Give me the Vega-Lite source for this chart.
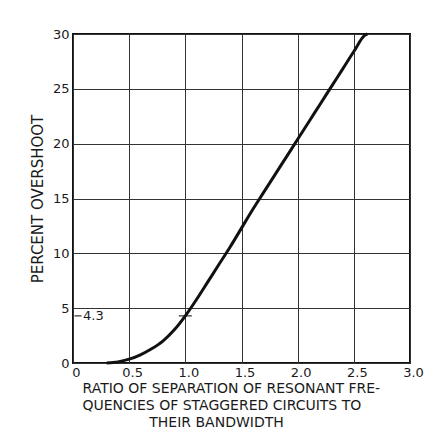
{
  "$schema": "https://vega.github.io/schema/vega-lite/v6.json",
  "width": 337,
  "height": 329,
  "autosize": {"type": "none"},
  "padding": {"left": 73, "top": 34, "right": 16, "bottom": 69},
  "background": "white",
  "config": {
    "font": "DejaVu Sans",
    "view": {"stroke": "#111", "strokeWidth": 2},
    "axis": {
      "grid": true,
      "gridColor": "#333",
      "gridOpacity": 1,
      "gridWidth": 1,
      "domain": false,
      "ticks": false,
      "labelFont": "DejaVu Sans",
      "labelFontSize": 13,
      "labelColor": "#1a1a1a",
      "titleFont": "DejaVu Sans",
      "titleFontSize": 15,
      "titleFontWeight": "normal",
      "titleColor": "#1a1a1a"
    }
  },
  "layer": [
    {
      "data": {
        "values": [
          {"r": 0.3, "p": 0.0},
          {"r": 0.4, "p": 0.1},
          {"r": 0.5, "p": 0.35},
          {"r": 0.6, "p": 0.75},
          {"r": 0.7, "p": 1.3},
          {"r": 0.8, "p": 2.0},
          {"r": 0.9, "p": 3.0},
          {"r": 1.0, "p": 4.3},
          {"r": 1.1, "p": 5.8},
          {"r": 1.2, "p": 7.4},
          {"r": 1.3, "p": 9.0},
          {"r": 1.4, "p": 10.6},
          {"r": 1.5, "p": 12.3},
          {"r": 1.6, "p": 14.0},
          {"r": 1.7, "p": 15.6},
          {"r": 1.8, "p": 17.2},
          {"r": 1.9, "p": 18.8},
          {"r": 2.0, "p": 20.4},
          {"r": 2.1, "p": 22.0},
          {"r": 2.2, "p": 23.6},
          {"r": 2.3, "p": 25.2},
          {"r": 2.4, "p": 26.8},
          {"r": 2.5, "p": 28.4},
          {"r": 2.6, "p": 29.9},
          {"r": 2.62, "p": 30.0}
        ]
      },
      "mark": {"type": "line", "color": "#111", "strokeWidth": 3, "interpolate": "monotone"},
      "encoding": {
        "x": {
          "field": "r",
          "type": "quantitative",
          "scale": {"domain": [0, 3], "nice": false},
          "axis": {
            "values": [0, 0.5, 1, 1.5, 2, 2.5, 3],
            "labelExpr": "datum.value == 0 ? '0' : format(datum.value, '.1f')",
            "labelPadding": 3,
            "labelOffset": 3,
            "labelFlush": false,
            "title": [
              "RATIO OF SEPARATION OF RESONANT FRE-",
              "QUENCIES OF STAGGERED CIRCUITS TO",
              "\u200b\u00a0\u00a0\u00a0\u00a0\u00a0\u00a0\u00a0\u00a0\u00a0\u00a0\u00a0\u00a0\u00a0\u00a0\u00a0THEIR BANDWIDTH"
            ],
            "titleFontSize": 14,
            "titleAlign": "left",
            "titleAnchor": "start",
            "titleX": 9,
            "titlePadding": 2,
            "titleLineHeight": 17
          }
        },
        "y": {
          "field": "p",
          "type": "quantitative",
          "scale": {"domain": [0, 30], "nice": false},
          "axis": {
            "values": [0, 5, 10, 15, 20, 25, 30],
            "labelPadding": 4,
            "labelFlush": false,
            "title": "PERCENT OVERSHOOT",
            "titlePadding": 7
          }
        }
      }
    },
    {
      "data": {"values": [{"r": 1.0, "p": 4.3}]},
      "mark": {"type": "tick", "orient": "horizontal", "size": 13, "thickness": 1.5, "color": "#111"},
      "encoding": {
        "x": {"field": "r", "type": "quantitative"},
        "y": {"field": "p", "type": "quantitative"}
      }
    },
    {
      "data": {"values": [{"r": 0.0, "p": 4.3}]},
      "mark": {"type": "tick", "orient": "horizontal", "size": 7, "thickness": 1.5, "color": "#111", "xOffset": 5},
      "encoding": {
        "x": {"field": "r", "type": "quantitative"},
        "y": {"field": "p", "type": "quantitative"}
      }
    },
    {
      "data": {"values": [{"r": 0.0, "p": 4.3, "label": "4.3"}]},
      "mark": {"type": "text", "align": "left", "baseline": "middle", "dx": 10, "fontSize": 13, "color": "#1a1a1a"},
      "encoding": {
        "x": {"field": "r", "type": "quantitative"},
        "y": {"field": "p", "type": "quantitative"},
        "text": {"field": "label"}
      }
    }
  ]
}
